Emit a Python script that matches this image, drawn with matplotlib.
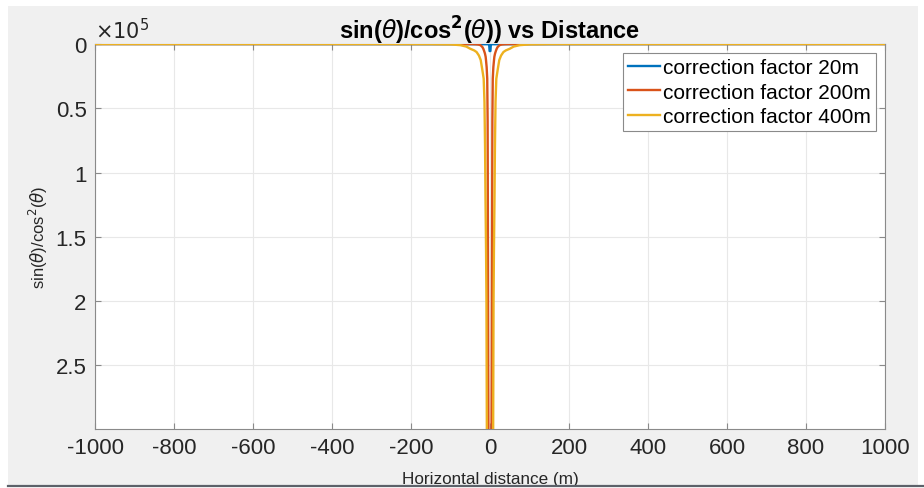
import matplotlib
matplotlib.use("Agg")
import matplotlib.pyplot as plt
from matplotlib.patches import Rectangle
from matplotlib.lines import Line2D
from matplotlib.ticker import FixedLocator, FuncFormatter

plt.rcParams['font.family'] = ['Liberation Sans', 'DejaVu Sans']
plt.rcParams['mathtext.fontset'] = 'dejavusans'

# Correction factor sin(theta)/cos^2(theta) against horizontal distance, per depth
x_20 = [-1000, -3, -2, -1, 1, 2, 3, 1000]
cf_20 = [0, 150, 900, 5500, 5500, 900, 150, 0]

x_200 = [-1000, -200, -100, -60, -45, -36, -30, -25, -22, -19, -17, -15,
         -12.7, -11, -10, -8.5, -7, -6, -5.5, -5, -4.5, -4, -3.5,
         3.5, 4, 4.5, 5, 5.5, 6, 7, 8.5, 10, 11, 12.7, 15, 17, 19, 22, 25, 30,
         36, 45, 60, 100, 200, 1000]
cf_200 = [0, 5, 20, 60, 110, 220, 400, 800, 1500, 2500, 3700, 5300,
          7500, 10000, 13000, 18000, 27000, 60000, 120000, 180000, 250000,
          300000, 360000,
          360000, 300000, 250000, 180000, 120000, 60000, 27000, 18000, 13000,
          10000, 7500, 5300, 3700, 2500, 1500, 800, 400, 220, 110, 60, 20, 5, 0]

x_400 = [-1000, -300, -150, -100, -75, -60, -50, -40, -34, -28, -23.5, -19.5,
         -16, -14, -12.5, -11.4, -10, -9, -8, -7,
         7, 8, 9, 10, 11.4, 12.5, 14, 16, 19.5, 23.5, 28, 34, 40, 50, 60, 75,
         100, 150, 300, 1000]
cf_400 = [0, 10, 50, 300, 900, 2000, 3700, 5000, 6250, 9000, 12500, 20000,
          27000, 45000, 80000, 120000, 160000, 200000, 300000, 380000,
          380000, 300000, 200000, 160000, 120000, 80000, 45000, 27000, 20000,
          12500, 9000, 6250, 5000, 3700, 2000, 900, 300, 50, 10, 0]

series_labels = ['correction factor 20m', 'correction factor 200m',
                 'correction factor 400m']
series_colors = ['#0072BD', '#D95319', '#EDB120']

x_ticks = [-1000, -800, -600, -400, -200, 0, 200, 400, 600, 800, 1000]
y_ticks = [0, 50000, 100000, 150000, 200000, 250000]

fig = plt.figure(figsize=(9.24, 4.89), dpi=100, facecolor='white')

# grey window panel behind the axes
fig.patches.append(Rectangle((8 / 924, 2 / 489), 910 / 924, 480 / 489,
                             transform=fig.transFigure, facecolor='#f0f0f0',
                             edgecolor='none', zorder=-10))
fig.lines.append(Line2D([8 / 924, 1.0], [2 / 489, 2 / 489],
                        transform=fig.transFigure, color='#5c6169', lw=1.6))

ax = fig.add_axes([95 / 924, 59 / 489, 790 / 924, 385 / 489])
ax.set_facecolor('white')

for xs, ys, lab, col in zip([x_20, x_200, x_400], [cf_20, cf_200, cf_400],
                            series_labels, series_colors):
    ax.plot(xs, ys, color=col, lw=1.7, label=lab, solid_joinstyle='round',
            clip_on=True, zorder=3)

ax.set_xlim(-1000, 1000)
ax.set_ylim(2.995e5, 0)

ax.xaxis.set_major_locator(FixedLocator(x_ticks))
ax.yaxis.set_major_locator(FixedLocator(y_ticks))
ax.yaxis.set_major_formatter(FuncFormatter(lambda v, p: f'{v / 1e5:g}'))
ax.xaxis.set_major_formatter(FuncFormatter(lambda v, p: f'{v:g}'))

ax.grid(True, color='#e8e8e8', lw=0.8)
ax.set_axisbelow(True)
ax.tick_params(direction='in', length=4.5, width=0.8, color='#8a8a8a',
               top=True, right=True, labelsize=16, labelcolor='#262626',
               pad=6)
for s in ax.spines.values():
    s.set_color('#8a8a8a')
    s.set_linewidth(0.8)

ax.set_xlabel('Horizontal distance (m)', fontsize=12.3, color='#262626',
              labelpad=9)
ax.set_ylabel(r'sin($\theta$)/cos$^2$($\theta$)', fontsize=12,
              color='#262626', labelpad=4)
ax.set_title(r'sin($\theta$)/cos$^{\mathbf{2}}$($\theta$)) vs Distance',
             fontsize=17, fontweight='bold', color='black', pad=4)

ax.text(0, 1.005, r'$\times 10^{5}$', transform=ax.transAxes, fontsize=15,
        color='#262626', ha='left', va='bottom')

leg = ax.legend(loc='upper right', fontsize=15, frameon=True, fancybox=False,
                edgecolor='#8a8a8a', framealpha=1, borderpad=0.22,
                labelspacing=0.27, handlelength=1.55, handletextpad=0.15,
                borderaxespad=0.45)
leg.get_frame().set_linewidth(0.8)
leg.set_zorder(5)

fig.savefig('out.png', dpi=100, facecolor='white')
